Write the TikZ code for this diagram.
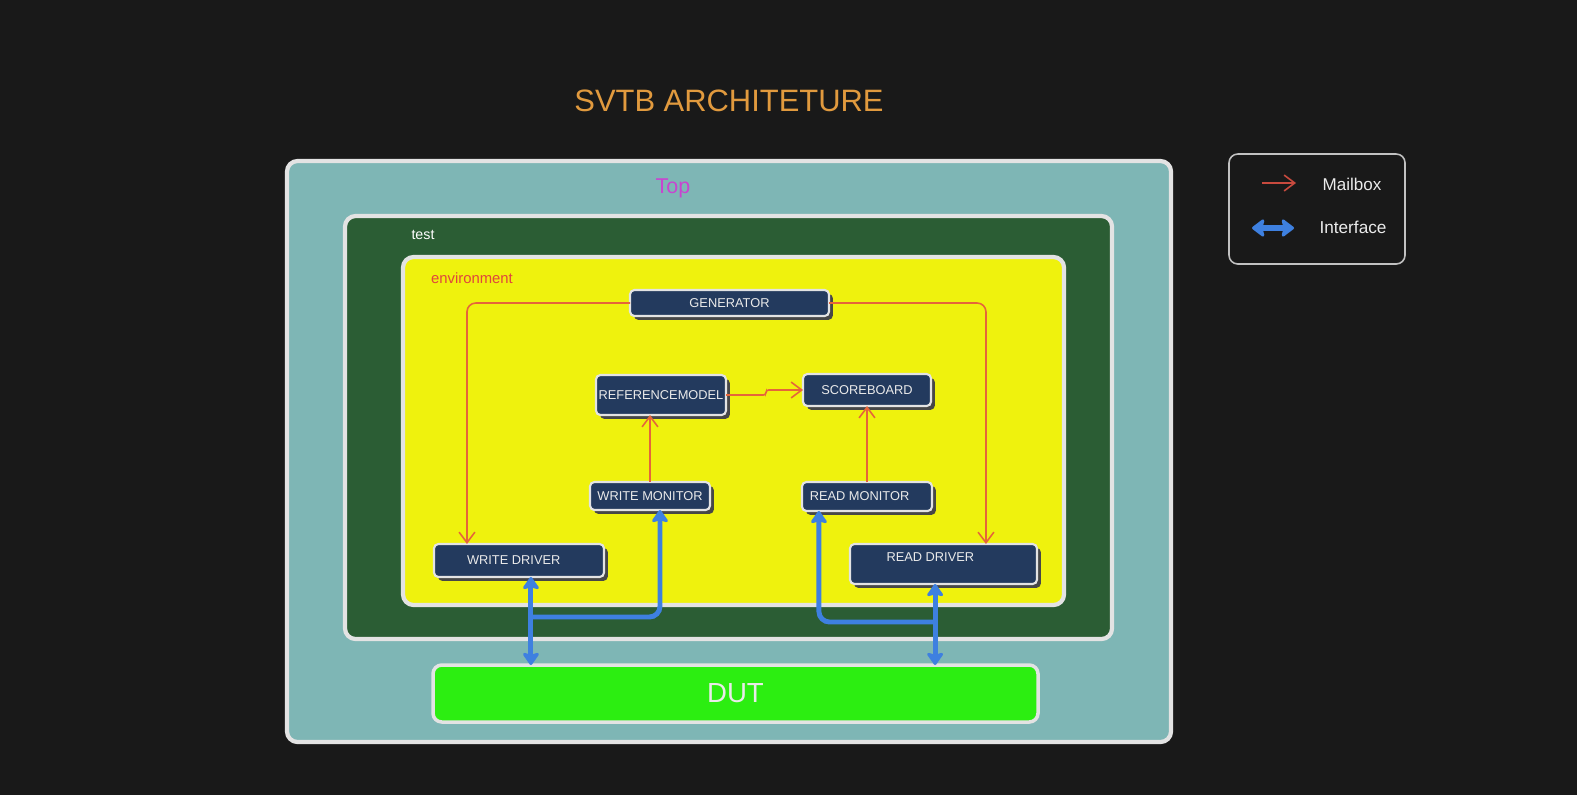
\documentclass[tikz,border=0pt]{standalone}
\usepackage{fontspec}
\setmainfont{Liberation Sans}
\usetikzlibrary{arrows.meta,calc,shadows}
\definecolor{bgc}{HTML}{191919}
\definecolor{topc}{HTML}{7EB6B5}
\definecolor{testc}{HTML}{2B5D34}
\definecolor{envc}{HTML}{EFF20D}
\definecolor{bordc}{HTML}{E3E3E3}
\definecolor{navyc}{HTML}{233A5E}
\definecolor{txtc}{HTML}{EAEAEA}
\definecolor{mailc}{HTML}{E5653A}
\definecolor{legmailc}{HTML}{C84A3E}
\definecolor{bluec}{HTML}{3E80E0}
\definecolor{titlec}{HTML}{E19A3E}
\definecolor{topt}{HTML}{C944D0}
\definecolor{envt}{HTML}{E0453C}
\definecolor{dutc}{HTML}{2CEE11}
\tikzset{
  itip/.tip={Stealth[length=8pt,width=11pt,inset=1.5pt,round]},
  ltip/.tip={Stealth[length=8pt,width=12pt,inset=1.5pt,round]},
  mtip/.tip={Straight Barb[length=6pt,width=9pt]},
  sz/.style 2 args={minimum width=#1*0.02cm, minimum height=#2*0.02cm, inner sep=0pt, outer sep=0pt},
  container/.style={draw=bordc, line width=2.4pt, rounded corners=6pt},
  blk/.style={draw=bordc, line width=1.2pt, fill=navyc, rounded corners=2.5pt, text=txtc,
    font=\fontsize{7.3}{8.5}\selectfont,
    general shadow={fill=black!72, shadow xshift=2.2pt, shadow yshift=-2.2pt}},
  mail/.style={draw=mailc, line width=0.9pt, rounded corners=5pt, -mtip},
  iface/.style={draw=bluec, line width=2.8pt, rounded corners=6pt},
  lbl/.style={inner sep=0pt}
}
\begin{document}
\begin{tikzpicture}[x=0.02cm, y=-0.02cm]
\fill[bgc] (0,0) rectangle (1577,795);
\useasboundingbox (0,0) rectangle (1577,795);

\node[lbl, text=titlec, font=\fontsize{17.6}{20}\selectfont] (title) at (729,101) {SVTB ARCHITETURE};

% containers
\node[container, fill=topc, sz={884}{581}] (top) at (729,451.5) {};
\node[lbl, text=topt, font=\fontsize{12.2}{14}\selectfont] (toplbl) at (673,188) {Top};
\node[container, fill=testc, sz={767}{423}] (test) at (728.5,427.5) {};
\node[lbl, text=white, font=\fontsize{8.1}{10}\selectfont] (testlbl) at (423,235) {test};
\node[container, fill=envc, sz={661}{348}] (env) at (733.5,431) {};
\node[lbl, text=envt, font=\fontsize{8.45}{10}\selectfont] (envlbl) at (472,278) {environment};

% blocks
\node[blk, sz={199}{26}] (gen) at (729.5,303) {GENERATOR};
\node[blk, sz={130}{40}] (ref) at (661,395) {REFERENCEMODEL};
\node[blk, sz={128}{32}] (sb) at (867,390) {SCOREBOARD};
\node[blk, sz={120}{28}] (wm) at (650,496) {WRITE MONITOR};
\node[blk, sz={130}{29}] (rm) at (867,496.5) {\hspace*{-8.5pt}READ MONITOR};
\node[blk, sz={170}{33}] (wd) at (519,560.5) {\hspace*{-6pt}WRITE DRIVER};
\node[blk, sz={187}{40}, text depth=8pt] (rd) at (943.5,564) {\hspace*{-15pt}READ DRIVER};

% DUT
\node[draw=bordc, line width=2pt, fill=dutc, rounded corners=5pt, sz={605}{57}, text=txtc,
  font=\fontsize{15.7}{18}\selectfont] (dut) at (735.5,693.5) {DUT};

% anchor points
\coordinate (wdn) at ($(wd.north west)!0.194!(wd.north east)$);
\coordinate (rdn) at ($(rd.north west)!0.727!(rd.north east)$);
\coordinate (wds) at ($(wd.south west)!0.57!(wd.south east)$);
\coordinate (wms) at ($(wm.south west)!0.583!(wm.south east)$);
\coordinate (rms) at ($(rm.south west)!0.13!(rm.south east)$);
\coordinate (rds) at ($(rd.south west)!0.455!(rd.south east)$);
\coordinate (wj) at (531,617);
\coordinate (rj) at (935,622);

% mailbox connections
\draw[mail] (gen.west) -| (wdn);
\draw[mail] (gen.east) -| (rdn);
\draw[mail, rounded corners=1.5pt] (ref.east) -- ++(40,0) |- (sb.west);
\draw[mail] (wm.north) -- (wm.north |- ref.south);
\draw[mail] (rm.north) -- (sb.south);

% interfaces
\draw[iface, itip-itip] (wds) -- (wds |- dut.north);
\draw[iface, -itip] (wj) -| (wms);
\draw[iface, itip-] (rms) |- (rj);
\draw[iface, itip-itip] (rds) -- (rds |- dut.north);

% legend
\node[draw=bordc!85!black, line width=0.9pt, fill=bgc, rounded corners=5pt, sz={176}{110}] (legend) at (1317,209) {};
\coordinate (m1) at (1262,183);
\coordinate (m2) at (1296,183);
\coordinate (i1) at (1252,228);
\coordinate (i2) at (1294,228);
\draw[draw=legmailc, line width=0.9pt, -mtip] (m1) -- (m2);
\draw[draw=bluec, line width=3.4pt, ltip-ltip] (i1) -- (i2);
\node[lbl, text=txtc, font=\fontsize{9.7}{12}\selectfont] (mlbl) at (1352,184) {Mailbox};
\node[lbl, text=txtc, font=\fontsize{9.8}{12}\selectfont] (ilbl) at (1353,227) {Interface};
\end{tikzpicture}
\end{document}
